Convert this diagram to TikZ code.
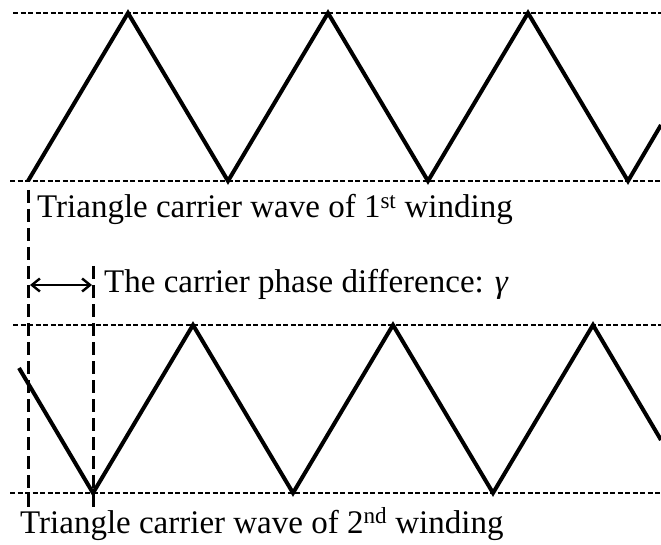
\documentclass[tikz,border=0pt]{standalone}
\usepackage{fontspec}
\setmainfont{Liberation Serif}
\usepackage{tikz}
\usetikzlibrary{arrows.meta}
\tikzset{
  wave/.style={line width=4pt,line join=miter,color=black},
  lvl/.style={dash pattern=on 5pt off 2.5pt,line width=1.5pt},
  vdash/.style={dash pattern=on 13pt off 6pt,line width=3pt},
  darr/.style={{Straight Barb[length=8pt,width=13pt]}-{Straight Barb[length=8pt,width=13pt]},line width=2.4pt},
  lbl/.style={anchor=base west,inner sep=0pt,font=\fontsize{33}{39}\selectfont},
}

\begin{document}
\begin{tikzpicture}[x=1pt,y=-1pt]
  \useasboundingbox (0,0) rectangle (661,545);
  % levels of the two carriers
  \draw[lvl] (13,13) -- (661,13);
  \draw[lvl] (10,181) -- (661,181);
  \draw[lvl] (13,325) -- (661,325);
  \draw[lvl] (10,493) -- (661,493);
  % carrier of the 1st winding
  \draw[wave] (28,181) -- (128,13) -- (228,181) -- (328,13) -- (428,181)
    -- (528,13) -- (628,181) -- (661,125);
  % carrier of the 2nd winding
  \draw[wave] (19,368) -- (93,493) -- (193,325) -- (293,493) -- (393,325)
    -- (493,493) -- (593,325) -- (661,440);
  % phase shift markers
  \coordinate (s1) at (28,190);
  \coordinate (e1) at (28,508);
  \coordinate (s2) at (93,266);
  \coordinate (e2) at (93,508);
  \draw[vdash] (s1) -- (e1);
  \draw[vdash] (s2) -- (e2);
  \coordinate (g1) at (30,285);
  \coordinate (g2) at (92,285);
  \draw[darr] (g1) -- (g2);
  \node[lbl] (t1) at (37,218) {Triangle carrier wave of 1\textsuperscript{st} winding};
  \node[lbl] (t2) at (104,293) {The carrier phase difference: \textit{γ}};
  \node[lbl] (t3) at (20,533) {Triangle carrier wave of 2\textsuperscript{nd} winding};
\end{tikzpicture}
\end{document}
